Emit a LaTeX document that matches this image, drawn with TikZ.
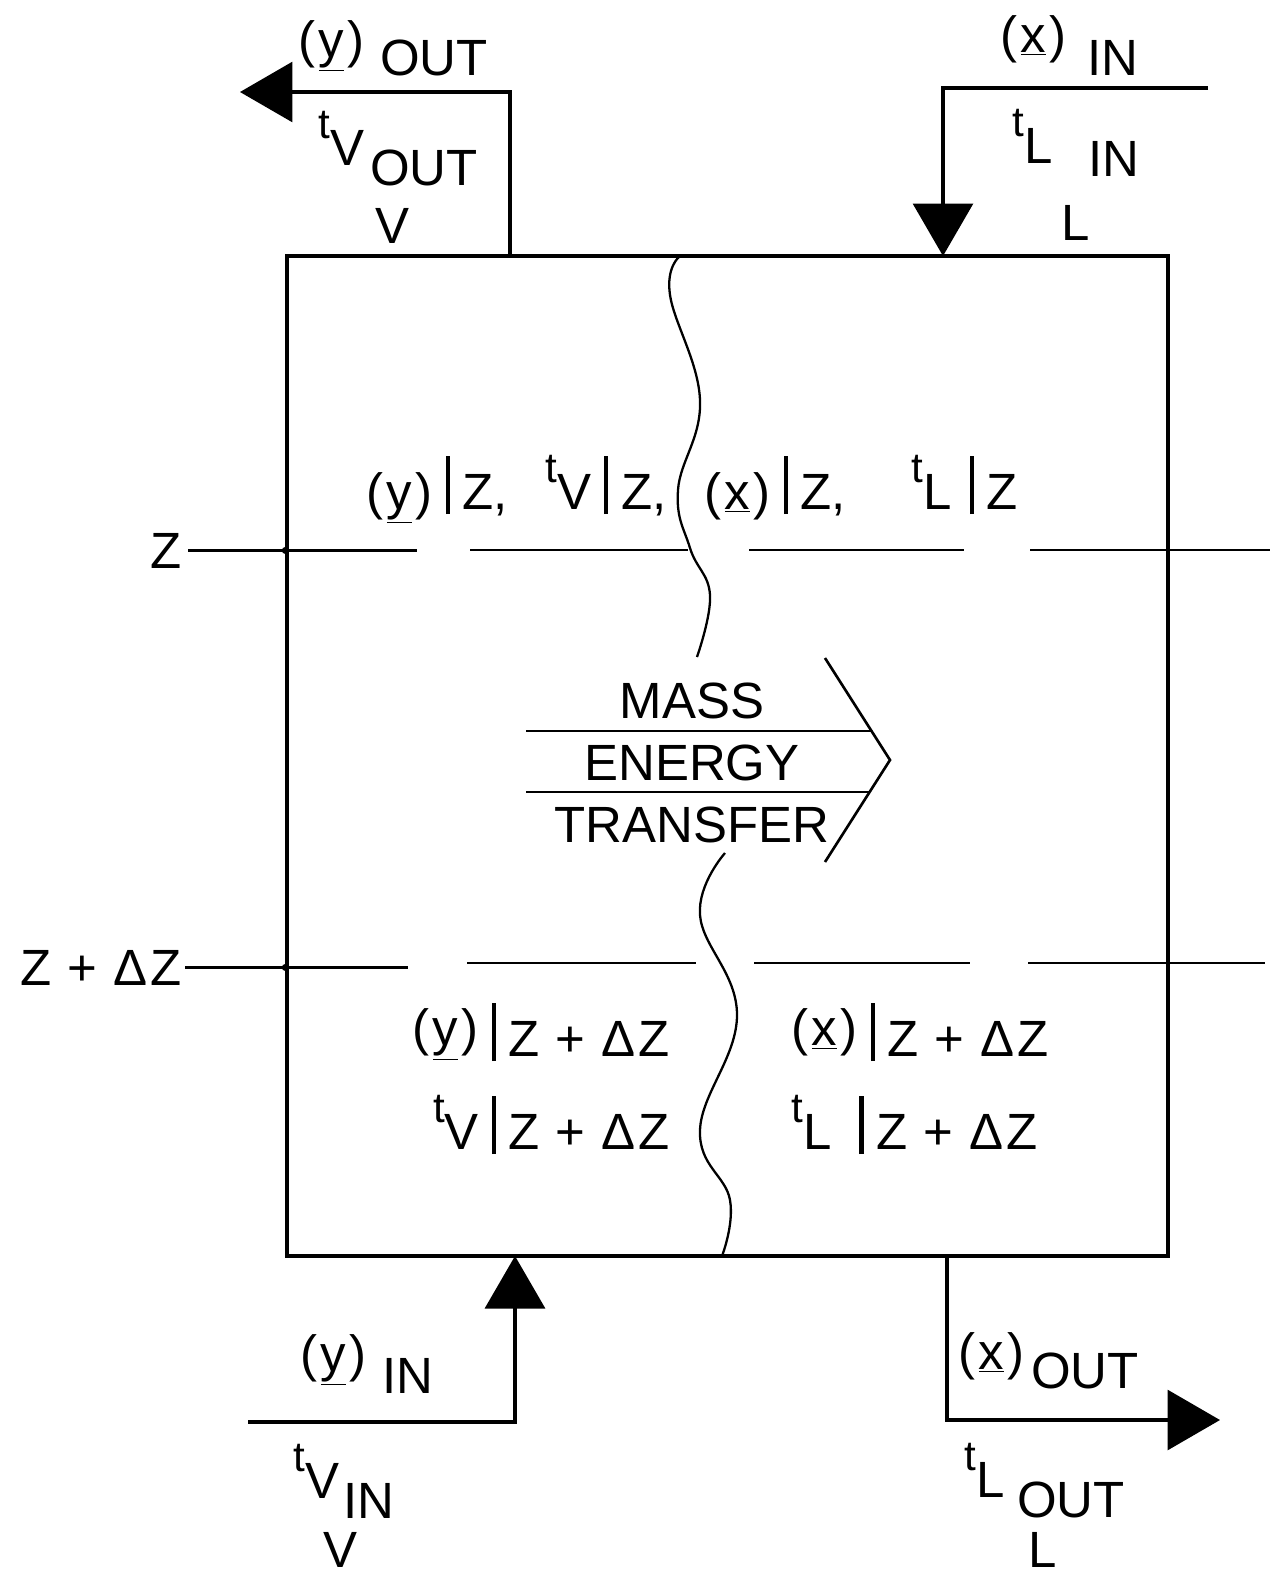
\documentclass[tikz,border=0pt]{standalone}
\usepackage{fontspec}
\setmainfont{Liberation Sans}
\usetikzlibrary{arrows.meta,positioning,calc}

\newcommand{\uvar}[1]{(\hspace{0.07em}\underline{#1}\hspace{0.07em})}
\newcommand{\tpre}{\raisebox{0.52em}{\fontsize{24}{24}\selectfont t}}
\newcommand{\vbar}{\hspace{0.25em}\rule[-0.1em]{0.08em}{1.15em}\hspace{0.25em}}
\newcommand{\zdz}{Z\hspace{0.32em}+\hspace{0.32em}Δ\hspace{0.05em}Z}

\tikzset{
  wall/.style={line width=2pt},
  flow/.style={line width=1.8pt, -{Triangle[length=1.05cm,width=1.2cm]}},
  level/.style={line width=1.4pt},
  wave/.style={line width=1.3pt},
  chevron/.style={line width=1.5pt},
  lab/.style={inner sep=0pt},
}

\begin{document}
\begin{tikzpicture}[x=0.02cm,y=-0.02cm,font=\fontsize{29}{33}\selectfont]
\useasboundingbox (0,0) rectangle (1270,1580);
% column section
\node[draw, wall, minimum width=17.62cm, minimum height=20cm, inner sep=0pt] (column) at (727.5,756) {};
\coordinate (voutport) at (510,256);
\coordinate (voutend) at (240,92);
\coordinate (linstart) at (1208,88);
\coordinate (linport) at (943,256);
\coordinate (vinstart) at (248,1422);
\coordinate (vinport) at (515,1256);
\coordinate (loutport) at (947,1256);
\coordinate (loutend) at (1220,1420);
\draw[flow] (voutport) |- (voutend);
\draw[flow] (linstart) -| (linport);
\draw[flow] (vinstart) -| (vinport);
\draw[flow] (loutport) |- (loutend);

% stream labels
\node[lab, anchor=base west] (yout) at (298,75) {\raisebox{0.35em}{\uvar{y}}\hspace{0.3em}OUT};
\node[lab, anchor=base west] (vout) at (318,165) {\tpre V\hspace{0.12em}\raisebox{-0.4em}{OUT}};
\node[lab, anchor=base] (vtop) at (392,243) {V};
\node[lab, anchor=base west] (xin) at (1000,75) {\raisebox{0.45em}{\uvar{x}}\hspace{0.4em}IN};
\node[lab, anchor=base west] (lin) at (1012,163) {\tpre L\hspace{0.7em}\raisebox{-0.27em}{IN}};
\node[lab, anchor=base] (ltop) at (1076,240) {L};
\node[lab, anchor=base west] (yin) at (300,1393) {\raisebox{0.43em}{\uvar{y}}\hspace{0.3em}IN};
\node[lab, anchor=base west] (vin) at (293,1498) {\tpre V\hspace{0.08em}\raisebox{-0.4em}{IN}};
\node[lab, anchor=base] (vbot) at (340,1567) {V};
\node[lab, anchor=base west] (xout) at (958,1388) {\raisebox{0.37em}{\uvar{x}}\hspace{0.12em}OUT};
\node[lab, anchor=base west] (lout) at (964,1497) {\tpre L\hspace{0.25em}\raisebox{-0.4em}{OUT}};
\node[lab, anchor=base] (lbot) at (1043,1567) {L};

% levels
\node[lab, anchor=base east] (zlab) at (182,568) {Z};
\node[lab, anchor=base east] (zdzlab) at (182,985) {\zdz};
\draw[level] (zlab.east) ++(6,0) -- ++(229,0);
\foreach \a/\b in {470/688,749/964,1030/1270}
  \draw[level] (\a,550) -- (\b,550);
\draw[level] (zdzlab.east) ++(3,0) -- ++(223,0);
\foreach \a/\b in {467/696,754/970,1028/1265}
  \draw[level] (\a,963) -- (\b,963);
\fill (column.west |- zlab.east) circle[radius=3.5];
\fill (column.west |- zdzlab.east) circle[radius=3.5];

% values at the two levels
\node[lab, anchor=base west] (yz) at (366,509) {\uvar{y}\vbar Z,\hspace{0.75em}\tpre V\vbar Z,};
\node[lab, anchor=base west] (xz) at (704,509) {\uvar{x}\vbar Z,\hspace{1.3em}\tpre L\hspace{0.1em}\vbar Z};
\node[lab, anchor=base east] (yzdz) at (670,1056) {\raisebox{0.2em}{\uvar{y}}\vbar\zdz};
\node[lab, anchor=base east] (vzdz) at (670,1149) {\tpre V\vbar\zdz};
\node[lab, anchor=base west] (xzdz) at (791,1056) {\raisebox{0.2em}{\uvar{x}}\vbar\zdz};
\node[lab, anchor=base west] (lzdz) at (791,1149) {\tpre L\hspace{0.3em}\vbar\zdz};

% interface
\draw[wave] plot[smooth, tension=0.7] coordinates {(679,257) (670,295) (700,400) (678,490) (690,548) (710,595) (697,657)};
\draw[wave] plot[smooth, tension=0.7] coordinates {(725,853) (700,915) (737,1015) (700,1130) (730,1200) (722,1256)};

% transfer arrow
\node[lab, align=center] (transfer) at (692,763) {MASS\\[0.08cm]ENERGY\\[0.08cm]TRANSFER};
\draw[chevron] (825,658) -- (890,760) -- (825,862);
\draw[chevron] (526,731) -- (871,731);
\draw[chevron] (526,792) -- (870,792);
\end{tikzpicture}
\end{document}
